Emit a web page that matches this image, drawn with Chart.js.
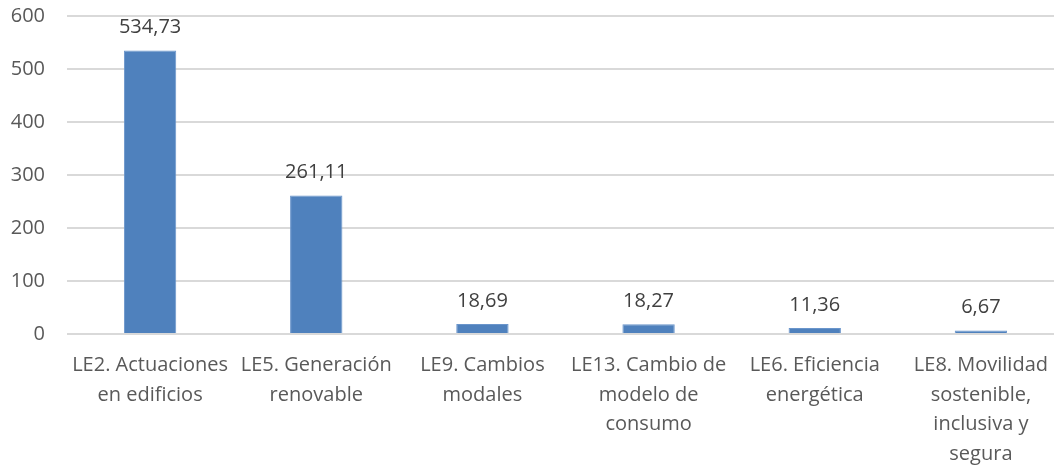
<!DOCTYPE html>
<html>
<head>
<meta charset="utf-8">
<script src="https://cdn.jsdelivr.net/npm/chart.js@4/dist/chart.umd.min.js"></script>
<style>
  html, body { margin: 0; padding: 0; overflow: hidden; background: #fff; }
  #wrap { width: 1064px; height: 467px; }
</style>
</head>
<body>
<div id="wrap"><canvas id="barChart"></canvas></div>
<script>
var categories = [
  ["LE2. Actuaciones", "en edificios"],
  ["LE5. Generación", "renovable"],
  ["LE9. Cambios", "modales"],
  ["LE13. Cambio de", "modelo de", "consumo"],
  ["LE6. Eficiencia", "energética"],
  ["LE8. Movilidad", "sostenible,", "inclusiva y", "segura"]
];
var values = [534.73, 261.11, 18.69, 18.27, 11.36, 6.67];
var yTicks = [0, 100, 200, 300, 400, 500, 600];

function fmt(v) {
  return v.toFixed(2).replace(".", ",");
}

// draws the value above each bar (no datalabels plugin here)
var valueLabels = {
  id: "valueLabels",
  afterDatasetsDraw: function (chart) {
    var ctx = chart.ctx;
    var meta = chart.getDatasetMeta(0);
    ctx.save();
    ctx.font = "20px 'Open Sans'";
    ctx.fillStyle = "#404040";
    ctx.textAlign = "center";
    ctx.textBaseline = "middle";
    for (var i = 0; i < meta.data.length; ++i) {
      var bar = meta.data[i];
      ctx.fillText(fmt(values[i]), bar.x, bar.y - 23);
    }
    ctx.restore();
  }
};

var ctx = document.getElementById("barChart");
var barChart = new Chart(ctx, {
  type: "bar",
  data: {
    labels: categories,
    datasets: [{
      data: values,
      backgroundColor: "#4F81BD",
      borderColor: "#6A95CB",
      borderWidth: 1,
      barPercentage: 0.315,
      categoryPercentage: 1
    }]
  },
  options: {
    responsive: true,
    maintainAspectRatio: false,
    animation: false,
    layout: { padding: { top: 16, left: 0, right: 0, bottom: 0 } },
    plugins: {
      legend: { display: false },
      tooltip: { enabled: false }
    },
    scales: {
      y: {
        min: 0,
        max: 600,
        afterBuildTicks: function (scale) {
          scale.ticks = yTicks.map(function (v) { return { value: v }; });
        },
        afterFit: function (scale) {
          scale.width = 67;
          scale.paddingTop = 0;
          scale.paddingBottom = 0;
        },
        border: { display: false },
        grid: { color: "#D9D9D9", lineWidth: 2, drawTicks: false },
        ticks: {
          color: "#595959",
          font: { family: "Open Sans", size: 20 },
          padding: 22
        }
      },
      x: {
        afterFit: function (scale) {
          scale.height = 133;
          scale.paddingLeft = 0;
          scale.paddingRight = 0;
        },
        border: { display: false },
        grid: { display: false },
        ticks: {
          color: "#595959",
          font: { family: "Open Sans", size: 20, lineHeight: 1.47 },
          padding: 9,
          maxRotation: 0,
          minRotation: 0,
          autoSkip: false
        }
      }
    }
  },
  plugins: [valueLabels]
});
</script>
</body>
</html>
